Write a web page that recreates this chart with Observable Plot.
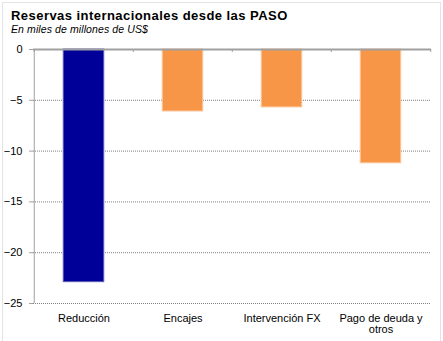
<!DOCTYPE html>
<html>
<head>
<meta charset="utf-8">
<script src="https://cdn.jsdelivr.net/npm/d3@7"></script>
<script src="https://cdn.jsdelivr.net/npm/@observablehq/plot@0.6"></script>
<style>
  html, body { margin: 0; padding: 0; background: #fff; }
  #wrap { position: relative; width: 443px; height: 341px; overflow: hidden; font-family: "Liberation Sans", Arial, sans-serif; }
  #border { position: absolute; left: 2px; top: 2px; width: 439px; height: 345px; border: 1px solid #e4e4e4; box-sizing: border-box; }
  #head { height: 38px; position: relative; }
  #title { position: absolute; left: 11px; top: 8px; font-size: 13px; font-weight: bold; color: #000; letter-spacing: 0.45px; }
  #subtitle { position: absolute; left: 11px; top: 23px; font-size: 10.5px; font-style: italic; color: #000; letter-spacing: 0.1px; }
  svg { display: block; }
</style>
</head>
<body>
<div id="wrap">
  <div id="border"></div>
  <div id="head">
    <div id="title">Reservas internacionales desde las PASO</div>
    <div id="subtitle">En miles de millones de US$</div>
  </div>
  <div id="chart"></div>
</div>
<script>
const categories = ["Reducción", "Encajes", "Intervención FX", "Pago de deuda y otros"];
const values = [-22.9, -6.1, -5.7, -11.2];
const colors = ["#000099", "#f79646", "#f79646", "#f79646"];
const strokes = ["#5a5ab8", "#fbc49a", "#fbc49a", "#fbc49a"];
const tickLabels = ["Reducción", "Encajes", "Intervención FX", "Pago de deuda y\notros"];
const yTicks = [0, -5, -10, -15, -20, -25];

const data = categories.map((c, i) => ({cat: c, value: values[i], fill: colors[i], stroke: strokes[i]}));

const W = 443, mL = 33, mR = 12;
const band = (W - mL - mR) / categories.length;
const barW = 41;
const inset = (band - barW) / 2;
const edges = categories.map((c) => ({cat: c, dx: -band / 2}))
  .concat([{cat: categories[categories.length - 1], dx: band / 2}]);

const chart = Plot.plot({
  width: W,
  height: 303,
  marginTop: 11,
  marginBottom: 38,
  marginLeft: mL,
  marginRight: mR,
  style: {fontFamily: "Liberation Sans, Arial, sans-serif", fontSize: "11px", color: "#000", background: "#fff"},
  x: {domain: categories, padding: 0, label: null},
  y: {domain: [-25, 0], label: null},
  marks: [
    Plot.gridY(yTicks.filter(d => d !== 0), {stroke: "#808080", strokeOpacity: 1, strokeDasharray: "1,1"}),
    Plot.barY(data, {x: "cat", y: "value", fill: "fill", stroke: "stroke", strokeWidth: 1, insetLeft: inset, insetRight: inset}),
    Plot.ruleX([edges[0]], {x: "cat", dx: -band / 2, y1: -25, y2: 0, stroke: "#a0a0a0"}),
    ...edges.map(e => Plot.ruleX([e], {x: "cat", dx: e.dx, y1: 0, y2: -0.3, stroke: "#a0a0a0"})),
    Plot.ruleY([0], {stroke: "#a0a0a0", strokeWidth: 2}),
    Plot.axisY({ticks: yTicks, tickSize: 4, tickPadding: 7, stroke: "#a0a0a0", fontSize: 11, fill: "#000"}),
    Plot.axisX({tickSize: 0, tickPadding: 11, tickFormat: (d) => tickLabels[categories.indexOf(d)], fontSize: 11, fill: "#000"})
  ]
});
document.getElementById("chart").appendChild(chart);
</script>
</body>
</html>
